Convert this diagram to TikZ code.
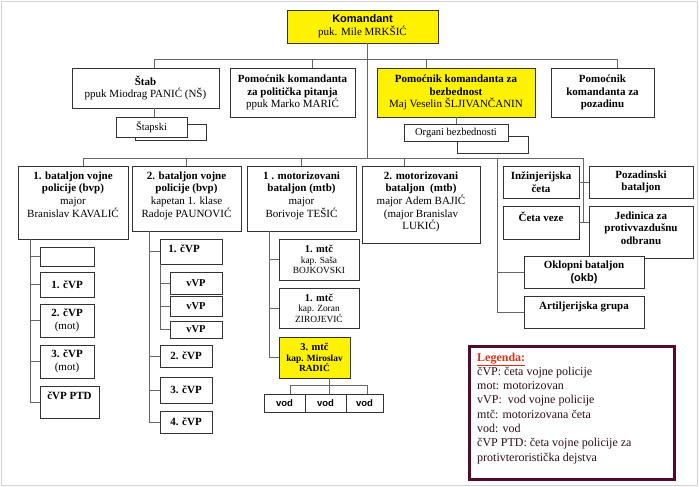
\documentclass[tikz,border=0pt]{standalone}
\usepackage{fontspec}
\setmainfont{Liberation Serif}
\setsansfont{Liberation Sans}
\usepackage{tikz}
\usepackage{color}

\definecolor{legframe}{RGB}{80,12,42}
\definecolor{legtext}{RGB}{45,12,25}
\definecolor{legred}{RGB}{225,50,25}

% box content: [c]entred or [t]op, width, height, text
\newcommand{\cell}[4][c]{\parbox[c][#3pt][#1]{#2pt}{\centering\if t#1\vspace*{5.5pt}\fi #4\par}}

\tikzset{
  unit/.style={draw=black!80, line width=0.8pt, fill=white, inner sep=0pt, outer sep=0pt,
    anchor=north west, font=\fontsize{11}{12.7}\selectfont},
  hot/.style={unit, fill=yellow},
  staff/.style={unit, font=\fontsize{10.5}{12}\selectfont},
  coy/.style={unit, font=\fontsize{9.4}{10.5}\selectfont},
  link/.style={draw=black!60, line width=0.6pt}
}

\begin{document}
\begin{tikzpicture}[x=1pt,y=-1pt]
\useasboundingbox (0,0) rectangle (699,487);
\draw[gray!35] (1,1) rectangle (697,485);

% command
\node[hot] (kom) at (287,10) {\cell{151}{33}{{\sffamily\bfseries Komandant}\\puk. Mile MRKŠIĆ}};
\node[unit] (stab) at (72,68) {\cell{147}{40}{\textbf{Štab}\\ppuk Miodrag PANIĆ (NŠ)}};
\node[unit] (pol) at (230,68) {\cell{125}{49}{\textbf{Pomoćnik komandanta}\\\textbf{za politička pitanja}\\ppuk Marko MARIĆ}};
\node[hot] (bez) at (377,68) {\cell{158}{49}{\textbf{Pomoćnik komandanta za}\\\textbf{bezbednost}\\Maj Veselin ŠLJIVANČANIN}};
\node[unit] (poz) at (551,68) {\cell{103}{49}{\bfseries Pomoćnik\\komandanta za\\pozadinu}};
\node[staff, minimum width=71, minimum height=16] (stapsh) at (135,124) {};
\node[staff] (stapski) at (116,117) {\cell{71}{20}{Štapski}};
\node[staff, minimum width=71, minimum height=17] (orgsh) at (457,136) {};
\node[staff] (organi) at (404,124) {\cell{104}{17}{Organi bezbednosti}};

% battalions
\node[unit] (bvpa) at (18,166) {\cell[t]{110}{73}{\textbf{1. bataljon vojne}\\\textbf{policije (bvp)}\\major\\Branislav KAVALIĆ}};
\node[unit] (bvpb) at (132,166) {\cell[t]{109}{65}{\textbf{2. bataljon vojne}\\\textbf{policije (bvp)}\\kapetan 1. klase\\Radoje PAUNOVIĆ}};
\node[unit] (mtba) at (247,166) {\cell[t]{109}{65}{\textbf{1 . motorizovani}\\\textbf{bataljon (mtb)}\\major\\Borivoje TEŠIĆ}};
\node[unit] (mtbb) at (362,166) {\cell[t]{118}{77}{\textbf{2. motorizovani}\\\textbf{bataljon\ \ (mtb)}\\major Adem BAJIĆ\\(major Branislav\\LUKIĆ)}};
\node[unit] (inz) at (503,166) {\cell{76}{32}{\bfseries Inžinjerijska\\četa}};
\node[unit] (pozb) at (589,166) {\cell{104}{32}{\bfseries Pozadinski\\bataljon}};
\node[unit] (veze) at (503,206) {\cell[t]{76}{33}{\bfseries Četa veze}};
\node[unit] (pvo) at (589,206) {\cell[t]{104}{52}{\bfseries Jedinica za\\protivvazdušnu\\odbranu}};
\node[unit] (okb) at (524,256) {\cell{120}{32}{\textbf{Oklopni bataljon}\\{\sffamily\bfseries (okb)}}};
\node[unit] (art) at (524,296) {\cell[t]{120}{32}{\bfseries Artiljerijska grupa}};

% 1. bvp
\node[unit, minimum width=54, minimum height=19] (e0) at (40,247) {};
\node[unit] (c1) at (40,272) {\cell{54}{25}{\bfseries 1. čVP}};
\node[unit] (c2) at (40,304) {\cell{54}{33}{\textbf{2. čVP}\\(mot)}};
\node[unit] (c3) at (40,345) {\cell{54}{33}{\textbf{3. čVP}\\(mot)}};
\node[unit] (ptd) at (40,386) {\cell[t]{59}{32}{\bfseries čVP PTD}};

% 2. bvp
\node[unit] (d1) at (160,239) {\cell[t]{62}{25}{\bfseries 1. čVP\hspace*{14pt}}};
\node[unit, font=\fontsize{10.5}{12}\selectfont] (v1) at (170,272) {\cell{52}{22}{\bfseries vVP}};
\node[unit, font=\fontsize{10.5}{12}\selectfont] (v2) at (170,296) {\cell{52}{20}{\bfseries vVP}};
\node[unit, font=\fontsize{10.5}{12}\selectfont] (v3) at (170,321) {\cell{52}{17}{\bfseries vVP}};
\node[unit] (d2) at (160,345) {\cell{52}{22}{\bfseries 2. čVP}};
\node[unit] (d3) at (160,377) {\cell{52}{26}{\bfseries 3. čVP}};
\node[unit] (d4) at (160,411) {\cell{52}{22}{\bfseries 4. čVP}};

% 1. mtb
\node[coy] (m1) at (279,239) {\cell{80}{41}{{\fontsize{10.5}{10.5}\selectfont\bfseries 1. mtč}\\kap. Saša\\BOJKOVSKI}};
\node[coy] (m2) at (279,288) {\cell{80}{40}{{\fontsize{10.5}{10.5}\selectfont\bfseries 1. mtč}\\kap. Zoran\\ZIROJEVIĆ}};
\node[coy, fill=yellow] (m3) at (279,337) {\cell{71}{41}{\bfseries{\fontsize{10.5}{10.5}\selectfont 3. mtč}\\kap. Miroslav\\RADIĆ}};
\node[unit, font=\sffamily\bfseries\fontsize{9.5}{11}\selectfont] (vod1) at (264,394) {\cell{41}{18}{vod}};
\node[unit, font=\sffamily\bfseries\fontsize{9.5}{11}\selectfont] (vod2) at (305,394) {\cell{41}{18}{vod}};
\node[unit, font=\sffamily\bfseries\fontsize{9.5}{11}\selectfont] (vod3) at (346,394) {\cell{37}{18}{vod}};

% connectors
\coordinate (topbus) at (0,59);
\coordinate (midbus) at (0,158);
\coordinate (vbus) at (0,385);
\coordinate (rspine) at (583,158);
\coordinate (lspine) at (497,158);
\draw[link] ([xshift=4.5pt]kom.south) -- ([xshift=4.5pt]kom.south |- midbus);
\draw[link] ([xshift=8.5pt]stab.north) |- ([xshift=14.5pt]poz.north |- topbus) -- ([xshift=14.5pt]poz.north);
\draw[link] ([xshift=19.5pt]pol.north) -- ([xshift=19.5pt]pol.north |- topbus);
\draw[link] ([xshift=-30pt]bez.north) -- ([xshift=-30pt]bez.north |- topbus);
\draw[link] ([xshift=8.5pt]stab.south) -- ([xshift=8.5pt]stab.south |- stapski.north);
\draw[link] (bez.south) -- (organi.north);
\draw[link] ([xshift=10pt]bvpa.north) |- (rspine) -- (rspine |- veze.east);
\draw[link] (bvpb.north) -- (bvpb.north |- midbus);
\draw[link] (mtba.north) -- (mtba.north |- midbus);
\draw[link] ([xshift=-17pt]mtbb.north) -- ([xshift=-17pt]mtbb.north |- midbus);
\draw[link] (inz.east) -- (pozb.west);
\draw[link] (veze.east) -- (veze.east -| pvo.west);
\draw[link] (lspine) |- (art.west);
\draw[link] (lspine |- okb.west) -- (okb.west);

\coordinate (s1) at ([xshift=12pt]bvpa.south west);
\draw[link] (s1) |- (ptd.west);
\foreach \b in {e0,c1,c2,c3}
  \draw[link] (s1 |- \b.west) -- (\b.west);
\coordinate (s2) at ([xshift=17pt]bvpb.south west);
\draw[link] (s2) |- (d4.west);
\foreach \b in {d1,d2,d3}
  \draw[link] (s2 |- \b.west) -- (\b.west);
\draw[link] (d1.south west) |- (v3.west);
\foreach \b in {v1,v2}
  \draw[link] (d1.south west |- \b.west) -- (\b.west);
\coordinate (s3) at ([xshift=22pt]mtba.south west);
\draw[link] (s3) |- (m3.west);
\foreach \b in {m1,m2}
  \draw[link] (s3 |- \b.west) -- (\b.west);
\draw[link] ([xshift=3.5pt]vod2.north |- m3.south) -- ([xshift=3.5pt]vod2.north);
\draw[link] ([xshift=5.5pt]vod1.north) |- ([xshift=3pt]vod3.north |- vbus) -- ([xshift=3pt]vod3.north);

% legend
\node[draw=legframe, line width=2.6pt, minimum width=205, minimum height=133, anchor=north west, inner sep=0pt] (legbox) at (468,345) {};
\node[anchor=north west, inner sep=0pt, align=left, text=legtext, font=\fontsize{12}{14.3}\selectfont] (legtxt) at (477,352.5)
  {\textcolor{legred}{\bfseries\underline{Legenda:}}\\
   čVP: četa vojne policije\\
   mot: motorizovan\\
   vVP:\ \ vod vojne policije\\
   mtč: motorizovana četa\\
   vod: vod\\
   čVP PTD: četa vojne policije za\\
   protivteroristička dejstva};
\end{tikzpicture}
\end{document}
